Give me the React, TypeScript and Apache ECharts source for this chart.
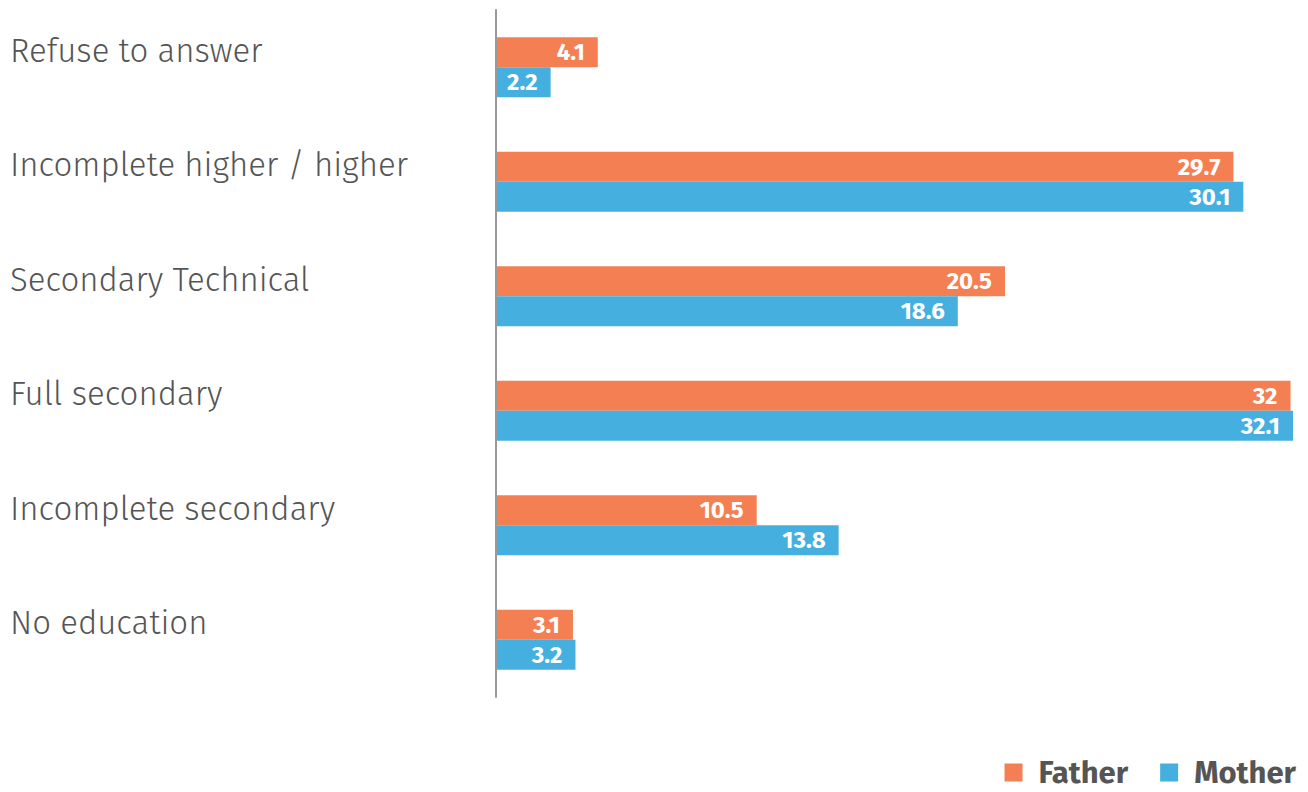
import React, { useEffect, useRef } from "react";
import * as echarts from "echarts";

const categories = [
  "Refuse to answer",
  "Incomplete higher / higher",
  "Secondary Technical",
  "Full secondary",
  "Incomplete secondary",
  "No education",
];
const fatherValues = [4.1, 29.7, 20.5, 32, 10.5, 3.1];
const motherValues = [2.2, 30.1, 18.6, 32.1, 13.8, 3.2];
const seriesNames = ["Father", "Mother"];

const FONT = "'Fira Sans', 'Noto Sans', 'Open Sans', sans-serif";

export default function App() {
  const ref = useRef<HTMLDivElement>(null);
  useEffect(() => {
    if (!ref.current) return;
    const chart = echarts.init(ref.current, null, { renderer: "svg" });
    const label = {
      show: true,
      position: "insideRight",
      distance: 13,
      color: "#ffffff",
      fontWeight: "bold",
      fontSize: 24,
      fontFamily: FONT,
    };
    chart.setOption({
      animation: false,
      backgroundColor: "#ffffff",
      grid: { left: 496, right: 15, top: 10, bottom: 95, containLabel: false },
      legend: {
        right: 12,
        bottom: 4,
        padding: 0,
        itemWidth: 18,
        itemHeight: 18,
        itemGap: 32,
        icon: "rect",
        textStyle: {
          fontSize: 31,
          lineHeight: 28,
          fontWeight: "bold",
          color: "#555555",
          fontFamily: FONT,
          padding: [0, 0, 0, 11],
        },
        data: seriesNames,
      },
      xAxis: {
        type: "value",
        min: 0,
        max: 32.1,
        show: false,
      },
      yAxis: {
        type: "category",
        inverse: true,
        data: categories,
        axisLine: { show: true, lineStyle: { color: "#999999", width: 2 } },
        axisTick: { show: false },
        axisLabel: {
          align: "left",
          verticalAlign: "bottom",
          margin: 486,
          fontSize: 33,
          fontWeight: 300,
          color: "#555555",
          fontFamily: FONT,
        },
        z: 10,
      },
      series: [
        {
          name: seriesNames[0],
          type: "bar",
          data: fatherValues,
          barWidth: 30,
          barGap: "0%",
          itemStyle: { color: "#F47F53" },
          label,
        },
        {
          name: seriesNames[1],
          type: "bar",
          data: motherValues,
          barWidth: 30,
          barGap: "0%",
          itemStyle: { color: "#45B0DF" },
          label,
        },
      ],
    });
    return () => chart.dispose();
  }, []);
  return (
    <div
      ref={ref}
      style={{ position: "fixed", left: 0, top: 0, width: 1308, height: 792 }}
    />
  );
}
